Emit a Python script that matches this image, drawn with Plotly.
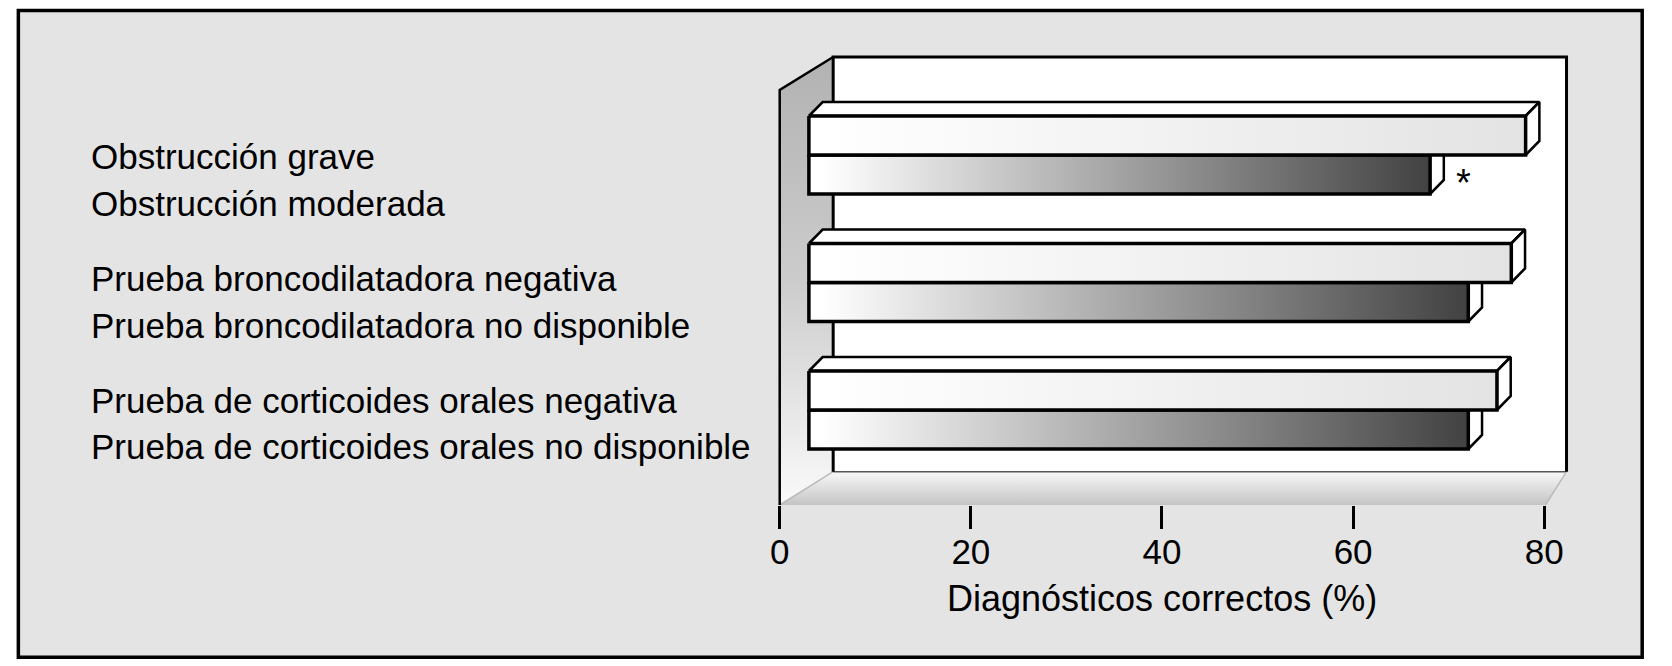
import plotly.graph_objects as go

# Porcentaje de diagnósticos correctos por criterio
labels_a = ["Obstrucción grave", "Prueba broncodilatadora negativa", "Prueba de corticoides orales negativa"]
labels_b = ["Obstrucción moderada", "Prueba broncodilatadora no disponible", "Prueba de corticoides orales no disponible"]
values_a = [75, 73.5, 72]
values_b = [65, 69, 69]
marks_b = ["*", "", ""]
x_ticks = [0, 20, 40, 60, 80]
x_title = "Diagnósticos correctos (%)"

W, H = 1672, 666
FONT = "Liberation Sans, Arial, sans-serif"
BG = "#e4e4e4"

# escala de la figura (en píxeles)
X0_PX = 783.3      # el 0 del eje en el plano frontal
PX_X = 9.725       # píxeles por punto porcentual
Y0_PX = 155        # centro del primer grupo de barras
PX_Y = 127.5       # separación entre grupos


def ux(px):
    return (px - X0_PX) / PX_X


def uy(py):
    return (py - Y0_PX) / PX_Y


BAR_X0 = ux(813)          # las barras arrancan desplazadas en profundidad
BAR_H = 39 / PX_Y
DX = 14 / PX_X
DY = 14 / PX_Y


def poly(xs, ys, fill=None, grad=None, lc="black", lw=0):
    tr = go.Scatter(x=list(xs) + [xs[0]], y=list(ys) + [ys[0]], mode="lines", fill="toself",
                    line=dict(color=lc, width=lw), hoverinfo="skip", showlegend=False)
    if grad is not None:
        tr.fillgradient = grad
    else:
        tr.fillcolor = fill
    return tr


def edge(xs, ys, lc="black", lw=2.5):
    return go.Scatter(x=xs, y=ys, mode="lines", line=dict(color=lc, width=lw),
                      hoverinfo="skip", showlegend=False)


def bar3d(i_top, i_bot, v, scale):
    x0, x1 = BAR_X0, BAR_X0 + v
    top = poly([x0, x0 + DX, x1 + DX, x1], [i_top, i_top - DY, i_top - DY, i_top], fill="white", lw=2.5)
    side = poly([x1, x1 + DX, x1 + DX, x1], [i_top, i_top - DY, i_bot - DY, i_bot], fill="white", lw=2.5)
    front = poly([x0, x1, x1, x0], [i_top, i_top, i_bot, i_bot],
                 grad=dict(type="horizontal", colorscale=scale, start=x0, stop=x1), lw=3.5)
    return [top, side, front]


fig = go.Figure()

# paredes del gráfico 3D
xl, xb, xr, xf = ux(783.3), ux(837.7), ux(1584), ux(1562.5)
yt_back, yb_back, yt_left, y_floor = uy(57), uy(471.7), uy(90), uy(505)

fig.add_trace(poly([xb, xr, xr, xb], [yt_back, yt_back, yb_back, yb_back], fill="white"))
fig.add_trace(poly([xl, xb, xb, xl], [yt_left, yt_back, yb_back, y_floor],
                   grad=dict(type="vertical", colorscale=[[0, "#b2b2b2"], [0.5, "#cccccc"], [1, "#fafafa"]],
                             start=yt_back, stop=y_floor)))
fig.add_trace(poly([xl, xb, xr, xf], [y_floor, yb_back, yb_back, y_floor],
                   grad=dict(type="vertical", colorscale=[[0, "#f8f8f8"], [1, "#c4c4c4"]],
                             start=yb_back, stop=y_floor)))
fig.add_trace(edge([xb, xr], [yb_back, yb_back], lc="#555555", lw=1.5))
fig.add_trace(edge([xl, xb], [y_floor, yb_back], lc="#bbbbbb", lw=1.5))
fig.add_trace(edge([xr, xf], [yb_back, y_floor], lc="#bbbbbb", lw=1.5))
fig.add_trace(edge([xb, xb, xr, xr], [yb_back, yt_back, yt_back, yb_back], lw=3))
fig.add_trace(edge([xl, xl, xb], [y_floor, yt_left, yt_back], lw=2.5))

# barras
light = [[0, "#ffffff"], [1, "#e2e2e2"]]
dark = [[0, "#ffffff"], [1, "#3a3a3a"]]
for i in range(len(values_a)):
    for tr in bar3d(i, i + BAR_H, values_b[i], dark):
        fig.add_trace(tr)
    for tr in bar3d(i - BAR_H, i, values_a[i], light):
        fig.add_trace(tr)
    if marks_b[i]:
        fig.add_annotation(x=BAR_X0 + values_b[i] + DX, y=i + BAR_H / 2, xref="x", yref="y",
                           text=marks_b[i], showarrow=False, xanchor="center", xshift=20, yshift=-8,
                           font=dict(family=FONT, size=38, color="black"))

# eje de valores (solo marcas y etiquetas)
fig.add_trace(go.Scatter(x=[], y=[], xaxis="x2", yaxis="y2", showlegend=False))

# etiquetas de categorías a la izquierda
for i in range(len(labels_a)):
    for j, txt in enumerate([labels_a[i], labels_b[i]]):
        py = 157 + 121.5 * i + 46.5 * j
        fig.add_annotation(x=80 / W, y=1 - py / H, xref="paper", yref="paper", text=txt,
                           showarrow=False, xanchor="left", yanchor="middle",
                           font=dict(family=FONT, size=35, color="black"))

fig.add_annotation(x=1172.8 / W, y=1 - 598 / H, xref="paper", yref="paper", text=x_title,
                   showarrow=False, xanchor="center", yanchor="middle",
                   font=dict(family=FONT, size=36, color="black"))

# marco exterior
fig.add_shape(type="rect", xref="paper", yref="paper", x0=8.5 / W, x1=1661 / W,
              y0=1 - 657.3 / H, y1=1 - 10.5 / H, fillcolor=BG, line=dict(color="black", width=3.5),
              layer="below")

fig.update_layout(
    width=W, height=H,
    margin=dict(l=0, r=0, t=0, b=0),
    paper_bgcolor="white",
    plot_bgcolor="rgba(0,0,0,0)",
    showlegend=False,
    xaxis=dict(domain=[0, 1], range=[ux(0), ux(W)], visible=False, fixedrange=True),
    yaxis=dict(domain=[0, 1], range=[uy(H), uy(0)], visible=False, fixedrange=True),
    xaxis2=dict(domain=[X0_PX / W, (X0_PX + 80 * PX_X) / W], range=[0, 80], anchor="y2",
                tickvals=x_ticks, ticks="outside", ticklen=23, tickwidth=3, tickcolor="black",
                ticklabelstandoff=-7,
                showgrid=False, zeroline=False, showline=False, fixedrange=True,
                tickfont=dict(family=FONT, size=35, color="black")),
    yaxis2=dict(domain=[1 - 505 / H, 1 - 500 / H], range=[0, 1], anchor="x2", visible=False),
)

fig.write_html("out.html", config={"displayModeBar": False},
               post_script="document.body.style.margin='0';document.body.style.overflow='hidden';")
